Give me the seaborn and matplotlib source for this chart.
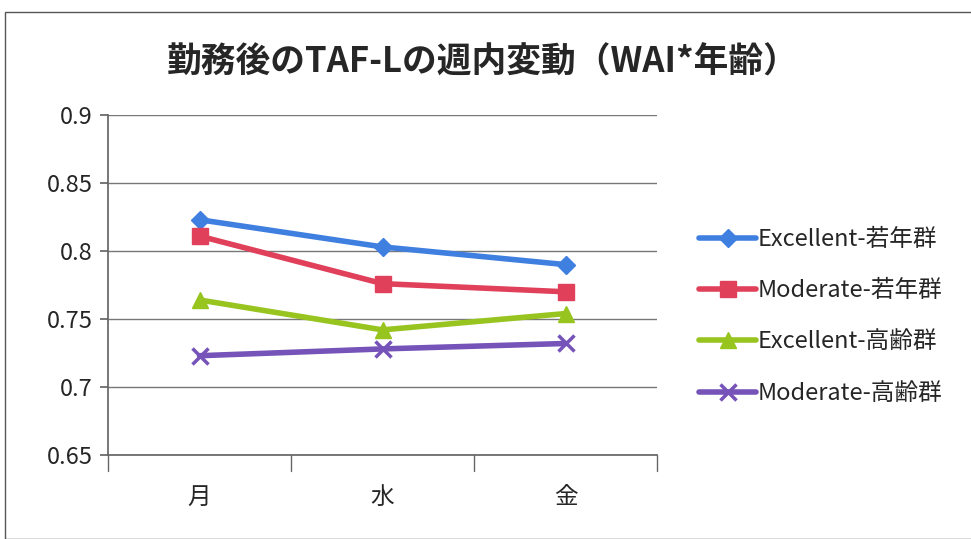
import matplotlib
matplotlib.use("Agg")
import matplotlib.pyplot as plt
import seaborn as sns
import pandas as pd
from matplotlib.patches import Rectangle

days = ["月", "水", "金"]
series_names = ["Excellent-若年群", "Moderate-若年群", "Excellent-高齢群", "Moderate-高齢群"]
exc_young = [0.823, 0.803, 0.790]
mod_young = [0.811, 0.776, 0.770]
exc_old = [0.764, 0.742, 0.754]
mod_old = [0.723, 0.728, 0.732]
yticks = [0.65, 0.7, 0.75, 0.8, 0.85, 0.9]
ytick_labels = ["0.65", "0.7", "0.75", "0.8", "0.85", "0.9"]

colors = ["#3f7fe0", "#e0405a", "#97c41e", "#7553b8"]
markers = ["D", "s", "^", "x"]
msizes = [9, 12, 11, 12]

rows = []
for name, vals in zip(series_names, [exc_young, mod_young, exc_old, mod_old]):
    for i, v in enumerate(vals):
        rows.append({"pos": i, "day": days[i], "value": v, "series": name})
df = pd.DataFrame(rows)

sns.set_theme(style="white")
plt.rcParams['font.family'] = ['Noto Sans CJK JP', 'DejaVu Sans']

fig = plt.figure(figsize=(9.71, 5.39), dpi=100)
ax = fig.add_axes([108/971, 1 - 455/539, (657-108)/971, (455-115)/539])

for name, c, m, ms in zip(series_names, colors, markers, msizes):
    sub = df[df.series == name]
    sns.lineplot(data=sub, x="pos", y="value", ax=ax, color=c, marker=m,
                 markersize=ms, linewidth=4, label=name,
                 markeredgecolor=c, markeredgewidth=2.5 if m == "x" else 1)

ax.set_xlim(-0.5, 2.5)
ax.set_ylim(0.65, 0.9)
ax.set_yticks(yticks)
ax.set_yticklabels(ytick_labels, fontsize=17)
ax.set_xticks([0, 1, 2])
ax.set_xticklabels(days, fontsize=17)
ax.tick_params(axis="x", length=0, pad=22)
ax.tick_params(axis="y", length=6, color="#666666", left=True, pad=5)
for b in [-0.5, 0.5, 1.5, 2.5]:
    ax.plot([b, b], [0.65, 0.65 - 0.012], color="#666666", lw=1, clip_on=False)
ax.yaxis.grid(True, color="#777777", lw=1)
ax.xaxis.grid(False)
ax.set_xlabel("")
ax.set_ylabel("")
for s in ["top", "right"]:
    ax.spines[s].set_visible(False)
ax.spines["left"].set_color("#666666")
ax.spines["bottom"].set_color("#666666")

leg = ax.legend(loc="center left", bbox_to_anchor=(1.06, 0.408), frameon=False,
                fontsize=17, handlelength=2.4, labelspacing=1.2, handletextpad=0.05,
                borderaxespad=0)

fig.text(0.497, 1 - 62/539, "勤務後のTAF-Lの週内変動（WAI*年齢）", ha="center", va="center",
         fontsize=25, fontweight="bold")

fig.patches.append(Rectangle((5/971, 0), 1, 1 - 12/539, transform=fig.transFigure,
                             fill=False, edgecolor="#555555", lw=1))

fig.savefig("out.png", dpi=100)
